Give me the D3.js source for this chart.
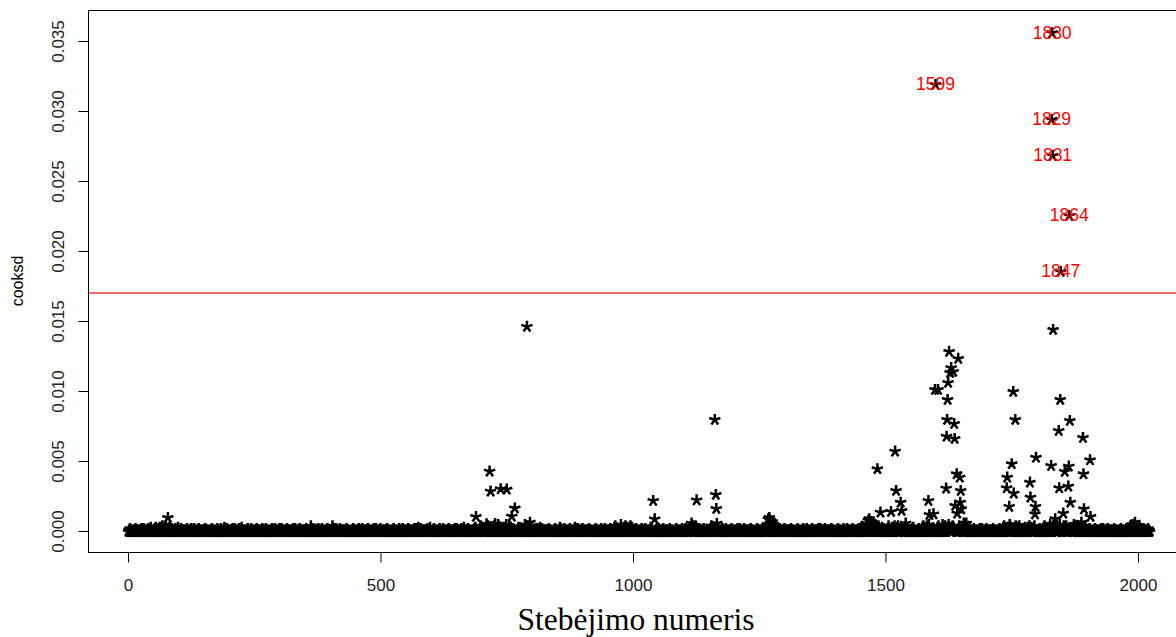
<!DOCTYPE html>
<html>
<head>
<meta charset="utf-8">
<script src="https://cdn.jsdelivr.net/npm/d3@7"></script>
<style>
  html, body { margin: 0; padding: 0; background: #fff; }
  svg { display: block; }
</style>
</head>
<body>
<svg id="chart" width="1176" height="637"></svg>
<script>
// ---- DATA ----
// Baseline Cook's distance per observation (1..2023), one digit per observation, in units of 0.0001
const baselineRows = [
  "0102010010100120010100101020012010010102010030101010203101000231020410103040201023101020100102010030",
  "1001200101001010200101002010102010010102010010101010200101000011020010100010201001020100103001020101",
  "0010102001201001010201003010101000102010010201001010012001010011020010102001010001002010102010010102",
  "0102010010100120010100101020012010010102010010101010200101000410020010100010201001020100101001200101",
  "0010402001201001010201001010101020010100001102001010001020100102010010100120010100101020012010010102",
  "0100101010102001010000110200101000102010010201001010012001010010102001201031010201001010101020010300",
  "0011020010100010201001020100101001200101001010200120100101020100301010102001010000110203101000102410",
  "0102010010304120010100204030012050010402010030105010204103000211020010103010201001020500101041200101",
  "0010102001201003010201001010101020010100001102001010003020100102010010100120010100103020012010010102",
  "0100101010102001010000110200101000102010010201001010012001010030402001201005010203004010301020410300",
  "0011020010100010201001020100101001300101003010200120100101020100101010102001010000110200101000102010",
  "0102010010103120040100401020012010010102010010101010204103000011020010100010201001020100101001200101",
  "0010102001201001010201001010101020010100001102001010001020100302050010100520010100301020012010010102",
  "0100101010102001010000110200101000102010010201001010012001010010102001201001010201001010101020010100",
  "0011020010100010201001020100101001200101001010200120300101020400501030106041050003110402101030102010",
  "0102040010103120040100304020012010010102010030101010203101000011020010103040201004020500101001300101",
  "0030402001205003040203005010301040310500031104021010304020100102030010100120010100101020012010010102",
  "0100101010102001010000110200101030402010030205003010412004010030402001201003010203004010301020410300",
  "0011020010103040201003020500401041300401003050200120400304020300401030105041030003110402101030402010",
  "0102030010100120010100101020012010010102010010101010200101000011020010100010201001020300501031200401",
  "00301020012010010102010"
];
// Observations that stand out from the baseline: observation numbers and their Cook's distance
const notableObs = [79, 689, 710, 716, 718, 727, 738, 750, 760, 766, 790, 796,
  1040, 1043, 1116, 1126, 1162, 1164, 1165, 1166,
  1268, 1270, 1272, 1274, 1276, 1278,
  1462, 1466, 1468, 1472, 1484, 1490, 1511, 1519, 1521, 1530, 1532, 1540,
  1585, 1587, 1595, 1598, 1599, 1604,
  1620, 1621, 1622, 1623, 1624, 1626, 1628, 1630, 1634, 1636, 1637, 1638, 1641, 1642, 1644, 1647, 1648, 1649, 1650, 1655, 1660,
  1740, 1741, 1745, 1750, 1753, 1754, 1757, 1786, 1787, 1796, 1797, 1798,
  1828, 1829, 1830, 1831, 1832, 1836, 1843, 1844, 1846, 1847, 1852, 1855, 1862, 1863, 1864, 1865, 1866,
  1888, 1891, 1892, 1893, 1905, 1906, 1994];
const notableVals = [0.0010, 0.00107, 0.00055, 0.00431, 0.00288, 0.00057, 0.00305, 0.00302, 0.00110, 0.00168, 0.01465, 0.00066,
  0.00221, 0.00090, 0.00060, 0.00226, 0.0080, 0.00264, 0.00164, 0.00059,
  0.0009, 0.0010, 0.0008, 0.0006, 0.0007, 0.0005,
  0.0006, 0.0008, 0.00091, 0.0007, 0.00448, 0.00138, 0.00143, 0.00574, 0.00293, 0.00209, 0.0015, 0.0006,
  0.00221, 0.00121, 0.00126, 0.01014, 0.03193, 0.01014,
  0.00310, 0.0068, 0.0080, 0.00943, 0.01064, 0.01286, 0.01136, 0.0117, 0.01143, 0.00771, 0.00664, 0.00186, 0.00412, 0.00131, 0.01236, 0.00388, 0.00209, 0.00293, 0.00162, 0.0006, 0.0006,
  0.00312, 0.00388, 0.00179, 0.00484, 0.0100, 0.00274, 0.0080, 0.00352, 0.00245, 0.00126, 0.00179, 0.0053,
  0.00471, 0.02943, 0.03562, 0.02686, 0.01443, 0.00091, 0.00721, 0.00312, 0.00943, 0.01857, 0.00131, 0.00429, 0.00324, 0.00467, 0.02257, 0.00793, 0.00209,
  0.00066, 0.00671, 0.00412, 0.00162, 0.00512, 0.00107, 0.00066];
const threshold = 0.017;
const xTicks = [0, 500, 1000, 1500, 2000];
const yTicks = [0, 0.005, 0.010, 0.015, 0.020, 0.025, 0.030, 0.035];
const xTitle = "Stebėjimo numeris";
const yTitle = "cooksd";

(function () {
  // ---- BUILD SERIES ----
  const digits = baselineRows.join("");
  const cooksd = Array.from(digits, c => +c * 0.0001);
  notableObs.forEach((o, i) => { cooksd[o - 1] = notableVals[i]; });
  const points = cooksd.map((v, i) => ({ obs: i + 1, v }));

  // ---- DRAW ----
  const svg = d3.select("#chart");
  const pL = 88, pR = 1189, pT = 10, pB = 552;

  const x = d3.scaleLinear().domain([-79.2, 2101]).range([pL, pR]);
  const y = d3.scaleLinear().domain([-0.0015, 0.037214]).range([pB, pT]);

  // star glyph (5-armed asterisk)
  const L = 5.9;
  const starPath = d3.range(5).map(k => {
    const a = k * 72 * Math.PI / 180;
    return `M0,0L${(L * Math.sin(a)).toFixed(2)},${(-L * Math.cos(a)).toFixed(2)}`;
  }).join("");

  svg.append("g")
    .selectAll("path")
    .data(points)
    .join("path")
    .attr("d", starPath)
    .attr("transform", d => `translate(${x(d.obs)},${y(d.v) + 0.8})`)
    .attr("stroke", "#000")
    .attr("stroke-width", 2.5)
    .attr("fill", "none");

  // threshold line
  svg.append("line")
    .attr("x1", pL).attr("x2", 1176)
    .attr("y1", y(threshold)).attr("y2", y(threshold))
    .attr("stroke", "#f03a3a").attr("stroke-width", 1.3);

  // labels for influential observations
  svg.append("g")
    .selectAll("text")
    .data(points.filter(d => d.v > threshold))
    .join("text")
    .attr("x", d => x(d.obs))
    .attr("y", d => y(d.v))
    .attr("dy", "0.36em")
    .attr("text-anchor", "middle")
    .attr("font-family", "Liberation Sans, Arial, sans-serif")
    .attr("font-size", 17.5)
    .attr("fill", "#ff0000")
    .text(d => d.obs);

  // box
  svg.append("rect")
    .attr("x", pL + 0.5).attr("y", pT + 0.5)
    .attr("width", pR - pL).attr("height", pB - pT)
    .attr("fill", "none").attr("stroke", "#000").attr("stroke-width", 1);

  // x axis
  const xAxis = svg.append("g")
    .attr("transform", `translate(0,${pB + 0.5})`)
    .call(d3.axisBottom(x).tickValues(xTicks).tickSize(10).tickFormat(d3.format("d")));
  xAxis.select(".domain").remove();
  xAxis.selectAll("line").attr("stroke", "#000");
  xAxis.selectAll("text")
    .attr("font-family", "Liberation Sans, Arial, sans-serif")
    .attr("font-size", 17).attr("fill", "#222").attr("dy", "0.71em")
    .attr("y", 26);

  // y axis
  const yAxis = svg.append("g")
    .attr("transform", `translate(${pL + 0.5},0)`)
    .call(d3.axisLeft(y).tickValues(yTicks).tickSize(10).tickFormat(d3.format(".3f")));
  yAxis.select(".domain").remove();
  yAxis.selectAll("line").attr("stroke", "#000");
  yAxis.selectAll("text")
    .attr("font-family", "Liberation Sans, Arial, sans-serif")
    .attr("font-size", 17).attr("fill", "#222")
    .attr("text-anchor", "middle")
    .attr("x", null).attr("dy", null)
    .attr("transform", "translate(-25,0) rotate(-90)");

  // titles
  svg.append("text")
    .attr("x", 636).attr("y", 630)
    .attr("text-anchor", "middle")
    .attr("font-family", "Liberation Serif, Times New Roman, serif")
    .attr("font-size", 31.5)
    .attr("fill", "#000")
    .text(xTitle);

  svg.append("text")
    .attr("transform", `translate(23,${(pT + pB) / 2}) rotate(-90)`)
    .attr("text-anchor", "middle")
    .attr("font-family", "Liberation Sans, Arial, sans-serif")
    .attr("font-size", 16)
    .attr("fill", "#000")
    .text(yTitle);
})();
</script>
</body>
</html>
